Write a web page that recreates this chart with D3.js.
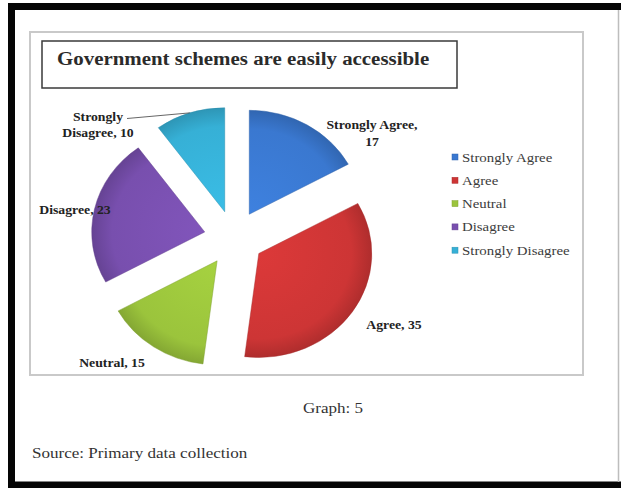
<!DOCTYPE html>
<html>
<head>
<meta charset="utf-8">
<script src="https://cdn.jsdelivr.net/npm/d3@7/dist/d3.min.js"></script>
<style>
  html, body { margin: 0; padding: 0; background: #fff; }
  svg { display: block; }
</style>
</head>
<body>
<svg id="chart" width="621" height="488"></svg>
<script>
// Survey responses: "Government schemes are easily accessible"
const categories = ["Strongly Agree", "Agree", "Neutral", "Disagree", "Strongly Disagree"];
const responses = [17, 35, 15, 23, 10];
const sliceColors = ["#3a78d0", "#cd3535", "#9bc43c", "#784fae", "#36b0d6"];
const titleText = "Government schemes are easily accessible";
const captionText = "Graph: 5";
const sourceText = "Source: Primary data collection";

const W = 621, H = 488;
const svg = d3.select("#chart");
const serif = "'Liberation Serif', 'Times New Roman', serif";
const stretch = 1.1; // horizontal widening of the text glyphs

svg.append("rect").attr("width", W).attr("height", H).attr("fill", "#fff");

// heavy page frame
svg.append("rect")
  .attr("x", 11.5).attr("y", 6.5).attr("width", 700).attr("height", 478.5)
  .attr("fill", "none").attr("stroke", "#050505").attr("stroke-width", 7);
svg.append("line")
  .attr("x1", 618.5).attr("x2", 618.5).attr("y1", 10).attr("y2", 482)
  .attr("stroke", "#bdbdbd").attr("stroke-width", 1.5);

// chart area
svg.append("rect")
  .attr("x", 30).attr("y", 32).attr("width", 553).attr("height", 343)
  .attr("fill", "#fff").attr("stroke", "#c9c9c9").attr("stroke-width", 2);

// title box
svg.append("rect")
  .attr("x", 42).attr("y", 41).attr("width", 415).attr("height", 47)
  .attr("fill", "#fff").attr("stroke", "#3a3a3a").attr("stroke-width", 1.5);

function addText(parent, x, y, str, o) {
  o = o || {};
  const g = parent.append("g")
    .attr("transform", `translate(${x},${y}) scale(${o.sx || stretch},1)`);
  return g.append("text")
    .attr("x", 0).attr("y", 0)
    .attr("text-anchor", o.anchor || "start")
    .attr("font-family", serif)
    .attr("font-size", o.size || 13)
    .attr("font-weight", o.weight || "normal")
    .attr("fill", o.fill || "#333")
    .text(str);
}

addText(svg, 57, 65, titleText, { size: 19, weight: "bold", fill: "#2b2b2b", sx: 1.1 });

// ---- exploded pie ----
const cx = 234, cy = 238, R = 113, ySquash = 0.92, explode = 30;
const data = categories.map((c, i) => ({ name: c, value: responses[i], color: sliceColors[i] }));
const pie = d3.pie().value(d => d.value).sort(null);
const arcs = pie(data);
const arc = d3.arc().innerRadius(0).outerRadius(R);

const defs = svg.append("defs");
data.forEach((d, i) => {
  const base = d3.color(d.color);
  const gr = defs.append("radialGradient")
    .attr("id", "grad" + i)
    .attr("gradientUnits", "userSpaceOnUse")
    .attr("cx", 0).attr("cy", 0).attr("r", R);
  gr.append("stop").attr("offset", "0%").attr("stop-color", base.brighter(0.2));
  gr.append("stop").attr("offset", "82%").attr("stop-color", base);
  gr.append("stop").attr("offset", "100%").attr("stop-color", base.darker(0.45));
});

const pieG = svg.append("g")
  .attr("transform", `translate(${cx},${cy}) scale(1,${ySquash})`);

function midAngle(a) { return (a.startAngle + a.endAngle) / 2; }
function offset(a) {
  const m = midAngle(a);
  return [explode * Math.sin(m), -explode * Math.cos(m)];
}

pieG.selectAll("g.slice")
  .data(arcs)
  .join("g")
  .attr("class", "slice")
  .attr("transform", a => `translate(${offset(a)[0]},${offset(a)[1]})`)
  .append("path")
  .attr("d", arc)
  .attr("fill", (a, i) => `url(#grad${i})`)
  .attr("stroke", a => d3.color(a.data.color).darker(0.6))
  .attr("stroke-width", 0.8)
  .attr("stroke-opacity", 0.6);

// point on a slice's outer rim at its mid angle, in page coordinates
function rimPoint(a) {
  const m = midAngle(a), o = offset(a);
  return [cx + o[0] + R * Math.sin(m), cy + ySquash * (o[1] - R * Math.cos(m))];
}

// ---- data labels ----
const labelPlacement = [
  { lines: [0, 1], x: 372, y: [129, 146] },
  { lines: [0], x: 394, y: [329] },
  { lines: [0], x: 112, y: [367] },
  { lines: [0], x: 75, y: [214] },
  { lines: [0, 1], x: 98, y: [121, 137], leader: true }
];
arcs.forEach((a, i) => {
  const p = labelPlacement[i];
  const full = `${a.data.name}, ${a.data.value}`;
  let parts;
  if (p.lines.length === 2) {
    const words = a.data.name.split(" ");
    parts = [words[0] + (i === 0 ? " " + words.slice(1).join(" ") + "," : ""),
             i === 0 ? String(a.data.value) : words.slice(1).join(" ") + ", " + a.data.value];
  } else {
    parts = [full];
  }
  parts.forEach((t, k) => addText(svg, p.x, p.y[k], t, { size: 12.5, weight: "bold", anchor: "middle", fill: "#222" }));
  if (p.leader) {
    const end = rimPoint(a);
    svg.append("line")
      .attr("x1", 127).attr("y1", 118.5)
      .attr("x2", end[0]).attr("y2", end[1])
      .attr("stroke", "#555").attr("stroke-width", 0.9);
  }
});

// ---- legend ----
const legend = svg.append("g").attr("transform", "translate(452,157)");
const rowStep = 23.3;
data.forEach((d, i) => {
  const row = legend.append("g").attr("transform", `translate(0,${i * rowStep})`);
  row.append("rect")
    .attr("x", 0).attr("y", -3).attr("width", 6).attr("height", 6)
    .attr("fill", d.color).attr("stroke", d3.color(d.color).darker(0.5)).attr("stroke-width", 0.5);
  addText(row, 10, 4.5, d.name, { size: 13.5, fill: "#3c3c3c" });
});

// ---- caption and source ----
addText(svg, 303, 413, captionText, { size: 15.5, fill: "#333" });
addText(svg, 32, 458, sourceText, { size: 15.5, fill: "#333" });
</script>
</body>
</html>
